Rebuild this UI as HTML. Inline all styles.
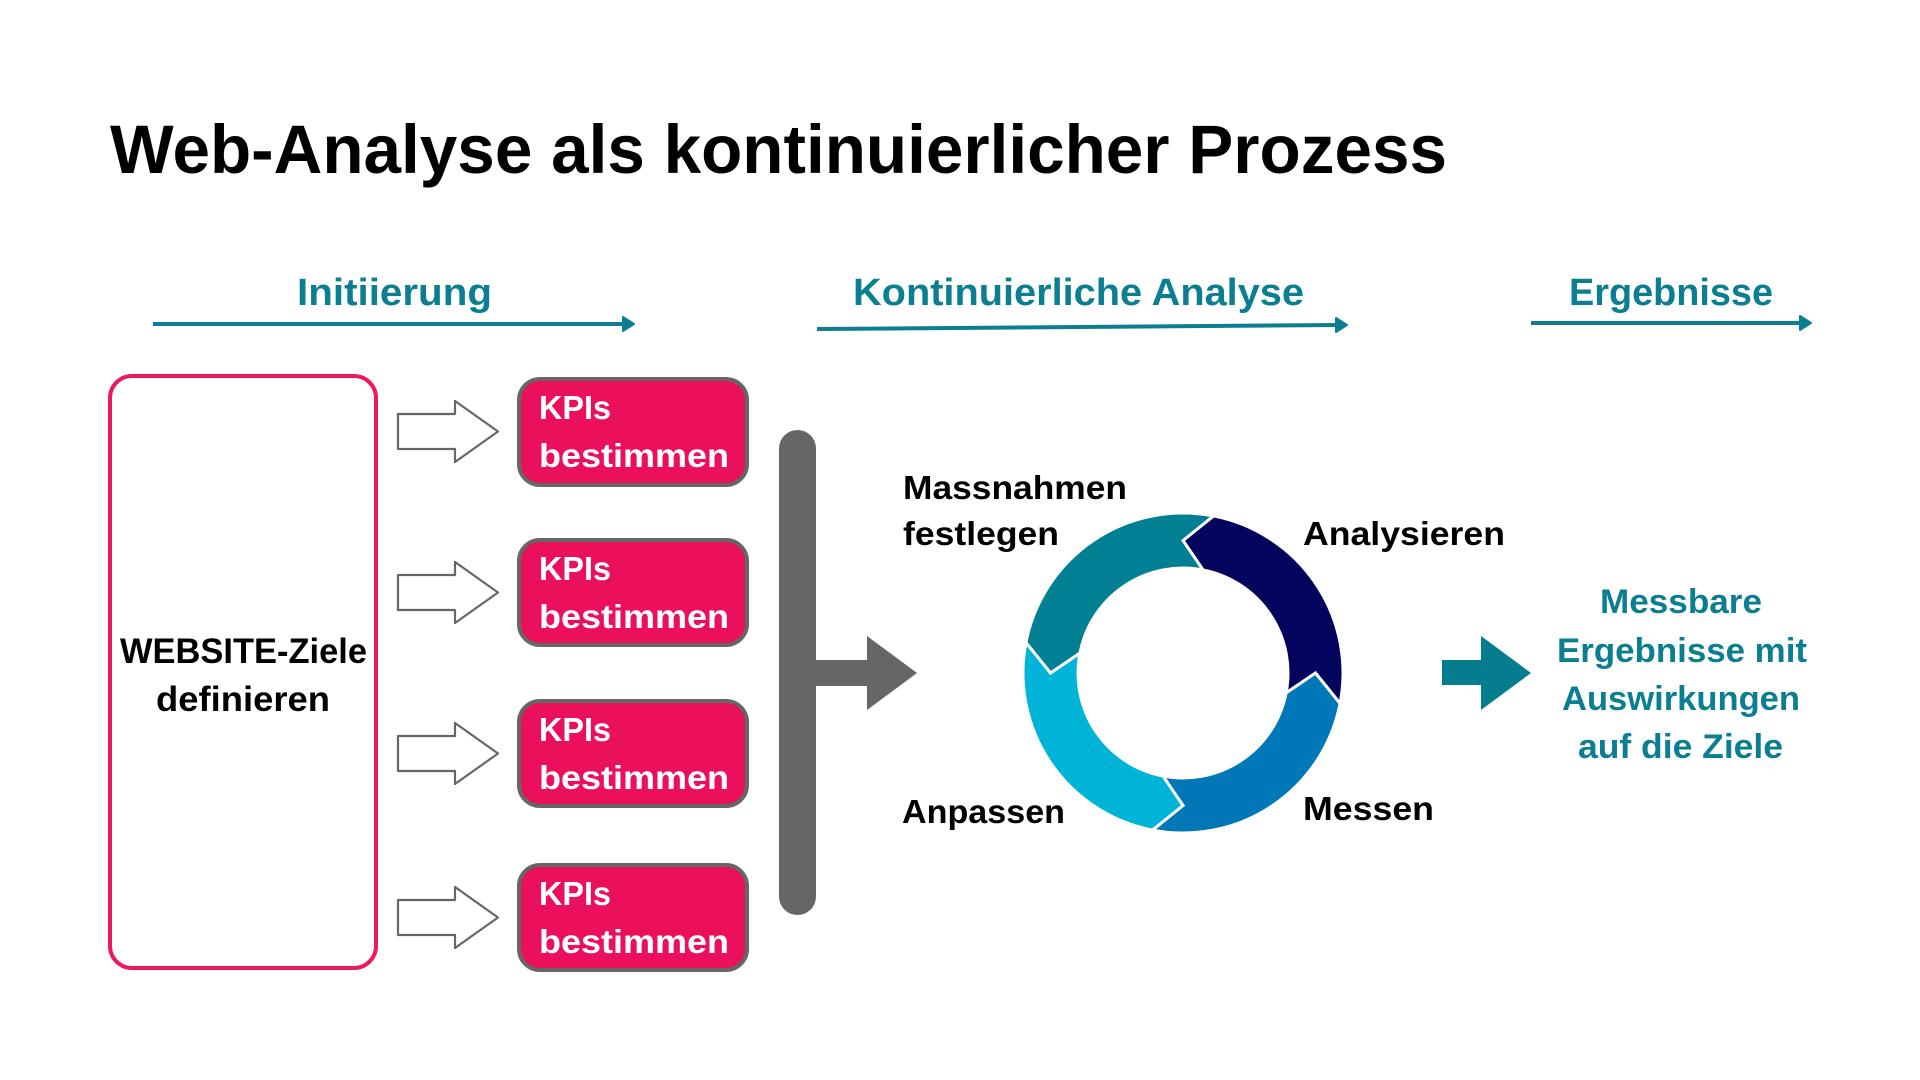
<!DOCTYPE html>
<html>
<head>
<meta charset="utf-8">
<style>
  html, body { margin: 0; padding: 0; background: #ffffff; }
  body { width: 1920px; height: 1080px; overflow: hidden; }
  svg { display: block; }
  text { font-family: "Liberation Sans", Arial, sans-serif; font-weight: bold; }
</style>
</head>
<body>
<svg width="1920" height="1080" viewBox="0 0 1920 1080" xmlns="http://www.w3.org/2000/svg">
  <rect x="0" y="0" width="1920" height="1080" fill="#ffffff"/>

  <!-- Title -->
  <text x="110" y="173" font-size="69" fill="#000000" textLength="1337" lengthAdjust="spacingAndGlyphs">Web-Analyse als kontinuierlicher Prozess</text>

  <!-- Phase headings -->
  <text x="297" y="305" font-size="38" fill="#0b7e92" textLength="195" lengthAdjust="spacingAndGlyphs">Initiierung</text>
  <text x="853" y="305" font-size="38" fill="#0b7e92" textLength="451" lengthAdjust="spacingAndGlyphs">Kontinuierliche Analyse</text>
  <text x="1569" y="305" font-size="38" fill="#0b7e92" textLength="204" lengthAdjust="spacingAndGlyphs">Ergebnisse</text>

  <!-- Heading arrows -->
  <line x1="153" y1="324" x2="628" y2="324" stroke="#0b7e92" stroke-width="4"/>
  <polygon points="623,317 634,324 623,331" fill="#0b7e92" stroke="#0b7e92" stroke-width="2" stroke-linejoin="round"/>

  <line x1="817" y1="329" x2="1341" y2="325" stroke="#0b7e92" stroke-width="4"/>
  <polygon points="1336,318 1347,325 1336,332" fill="#0b7e92" stroke="#0b7e92" stroke-width="2" stroke-linejoin="round"/>

  <line x1="1531" y1="323" x2="1805" y2="323" stroke="#0b7e92" stroke-width="4"/>
  <polygon points="1800,316 1811,323 1800,330" fill="#0b7e92" stroke="#0b7e92" stroke-width="2" stroke-linejoin="round"/>

  <!-- Website goals box -->
  <rect x="110" y="376" width="266" height="592" rx="22" ry="22" fill="#ffffff" stroke="#ec1a5c" stroke-width="4"/>
  <text x="120" y="663" font-size="35" fill="#000000" textLength="247" lengthAdjust="spacingAndGlyphs">WEBSITE-Ziele</text>
  <text x="156" y="711" font-size="35" fill="#000000" textLength="174" lengthAdjust="spacingAndGlyphs">definieren</text>

  <!-- Outline arrows -->
  <g fill="#ffffff" stroke="#666666" stroke-width="2.2" stroke-linejoin="round">
    <path d="M398,414 L455,414 L455,401 L498,431.5 L455,462 L455,449 L398,449 Z"/>
    <path d="M398,575 L455,575 L455,562 L498,592.5 L455,623 L455,610 L398,610 Z"/>
    <path d="M398,736 L455,736 L455,723 L498,753.5 L455,784 L455,771 L398,771 Z"/>
    <path d="M398,900 L455,900 L455,887 L498,917.5 L455,948 L455,935 L398,935 Z"/>
  </g>

  <!-- KPI boxes -->
  <g fill="#eb105b" stroke="#666666" stroke-width="4">
    <rect x="519" y="379" width="228" height="106" rx="21" ry="21"/>
    <rect x="519" y="540" width="228" height="105" rx="21" ry="21"/>
    <rect x="519" y="701" width="228" height="105" rx="21" ry="21"/>
    <rect x="519" y="865" width="228" height="105" rx="21" ry="21"/>
  </g>
  <g fill="#ffffff" font-size="33">
    <text x="539" y="419" textLength="72" lengthAdjust="spacingAndGlyphs">KPIs</text>
    <text x="539" y="467" textLength="190" lengthAdjust="spacingAndGlyphs">bestimmen</text>
    <text x="539" y="580" textLength="72" lengthAdjust="spacingAndGlyphs">KPIs</text>
    <text x="539" y="628" textLength="190" lengthAdjust="spacingAndGlyphs">bestimmen</text>
    <text x="539" y="741" textLength="72" lengthAdjust="spacingAndGlyphs">KPIs</text>
    <text x="539" y="789" textLength="190" lengthAdjust="spacingAndGlyphs">bestimmen</text>
    <text x="539" y="905" textLength="72" lengthAdjust="spacingAndGlyphs">KPIs</text>
    <text x="539" y="953" textLength="190" lengthAdjust="spacingAndGlyphs">bestimmen</text>
  </g>

  <!-- Gray bar + arrow -->
  <rect x="779" y="430" width="37" height="485" rx="18.5" ry="18.5" fill="#666666"/>
  <rect x="814" y="660" width="54" height="26" fill="#666666"/>
  <polygon points="867,636 917,673 867,710" fill="#666666"/>

  <!-- Cycle -->
  <g stroke="#ffffff" stroke-width="3" stroke-linejoin="miter">
    <path fill="#03045e" d="M1213.53,515.94 A160,160 0 0 1 1340.06,703.53 L1315.5,673 L1286.07,693.04 A105,105 0 0 0 1203.04,569.93 L1183,540.5 Z"/>
    <path fill="#0077b6" d="M1340.06,703.53 A160,160 0 0 1 1152.47,830.06 L1183,805.5 L1162.96,776.07 A105,105 0 0 0 1286.07,693.04 L1315.5,673 Z"/>
    <path fill="#00b4d8" d="M1152.47,830.06 A160,160 0 0 1 1025.94,642.47 L1050.5,673 L1079.93,652.96 A105,105 0 0 0 1162.96,776.07 L1183,805.5 Z"/>
    <path fill="#028093" d="M1025.94,642.47 A160,160 0 0 1 1213.53,515.94 L1183,540.5 L1203.04,569.93 A105,105 0 0 0 1079.93,652.96 L1050.5,673 Z"/>
  </g>

  <!-- Cycle labels -->
  <g fill="#000000" font-size="33">
    <text x="903" y="499" textLength="224" lengthAdjust="spacingAndGlyphs">Massnahmen</text>
    <text x="903" y="545" textLength="156" lengthAdjust="spacingAndGlyphs">festlegen</text>
    <text x="1303" y="545" textLength="202" lengthAdjust="spacingAndGlyphs">Analysieren</text>
    <text x="1303" y="820" textLength="131" lengthAdjust="spacingAndGlyphs">Messen</text>
    <text x="902" y="823" textLength="163" lengthAdjust="spacingAndGlyphs">Anpassen</text>
  </g>

  <!-- Right arrow -->
  <rect x="1442" y="660" width="41" height="25" fill="#067d8f"/>
  <polygon points="1481,636 1531,673 1481,710" fill="#067d8f"/>

  <!-- Result text -->
  <g fill="#0b7e92" font-size="34">
    <text x="1600" y="613" textLength="162" lengthAdjust="spacingAndGlyphs">Messbare</text>
    <text x="1557" y="662" textLength="250" lengthAdjust="spacingAndGlyphs">Ergebnisse mit</text>
    <text x="1562" y="710" textLength="238" lengthAdjust="spacingAndGlyphs">Auswirkungen</text>
    <text x="1578" y="758" textLength="205" lengthAdjust="spacingAndGlyphs">auf die Ziele</text>
  </g>
</svg>
</body>
</html>
